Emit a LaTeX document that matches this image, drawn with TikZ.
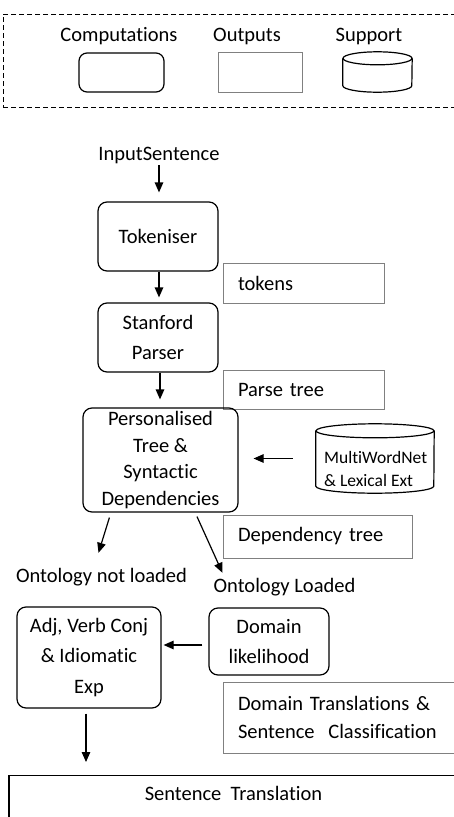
\documentclass[tikz,border=0pt]{standalone}
\usepackage{fontspec}
\setmainfont{Carlito}[Ligatures={NoCommon,NoContextual}, Contextuals={NoAlternate}]
\usetikzlibrary{arrows.meta,calc}
\definecolor{outgray}{HTML}{808080}
\tikzset{
  base/.style={font=\fontsize{20.5pt}{26.5pt}\selectfont},
  comp/.style={base, draw, rounded corners=9pt, line width=1.2pt, align=center, inner sep=0pt},
  outb/.style={base, draw=outgray, line width=1pt, align=left, inner xsep=15pt, inner ysep=0pt},
  txt/.style={base, inner sep=0pt, text height=14pt, text depth=4pt},
  arr/.style={-{Triangle[width=8.5pt,length=10pt]}, line width=1.2pt},
  cylbox/.style={draw=none, inner sep=0pt},
  cyl/.style={line width=1.2pt}
}
\begin{document}
\begin{tikzpicture}[x=1pt,y=-1pt]
\clip (0,0) rectangle (454,817);
\fill[white] (0,0) rectangle (454,817);

% legend
\node[draw, dash pattern=on 5pt off 3pt, line width=1pt, minimum width=452pt, minimum height=93pt, inner sep=0pt] (legend) at (229,60.5) {};
\node[txt] (lc) at (119,36) {Computations};
\node[txt] (lo) at (247,36) {Outputs};
\node[txt] (ls) at (369,36) {Support};
\node[comp, minimum width=85pt, minimum height=39pt, rounded corners=8pt] (lcb) at (121.5,72.5) {};
\node[outb, minimum width=84pt, minimum height=40pt, inner sep=0pt] (lob) at (260,72) {};
\node[cylbox, minimum width=69pt, minimum height=40pt] (lsb) at (377.5,72) {};
\draw[cyl] ([yshift=-6.5pt]lsb.north) ellipse [x radius=34.5pt, y radius=6.5pt];
\draw[cyl] ([yshift=-6.5pt]lsb.north west) -- ([yshift=6.5pt]lsb.south west)
  arc[start angle=180, end angle=360, x radius=34.5pt, y radius=6.5pt] -- ([yshift=-6.5pt]lsb.north east);

% main flow
\node[txt] (in) at (159,155) {InputSentence};
\node[comp, minimum width=120pt, minimum height=69pt] (tok) at (158,236.5) {Tokeniser};
\node[outb, text width=131pt, minimum height=40pt] (tokens) at (303.5,283) {tokens};
\node[comp, minimum width=120pt, minimum height=69pt, font=\fontsize{20.5pt}{30pt}\selectfont] (st) at (158,337.5) {Stanford\\Parser};
\node[outb, text width=131pt, minimum height=39pt] (pt) at (303.5,389.5) {Parse tree};
\node[comp, minimum width=155pt, minimum height=104pt] (pers) at (160.5,460) {Personalised\\Tree \&\\Syntactic\\Dependencies};

\node[cylbox, minimum width=118pt, minimum height=69pt] (mwn) at (375,458.5) {};
\draw[cyl] ([yshift=-7pt]mwn.north) ellipse [x radius=59pt, y radius=7pt];
\draw[cyl] ([yshift=-7pt]mwn.north west) -- ([yshift=7pt]mwn.south west)
  arc[start angle=180, end angle=360, x radius=59pt, y radius=7pt] -- ([yshift=-7pt]mwn.north east);
\node[inner sep=0pt, align=left, anchor=west, font=\fontsize{17.5pt}{23pt}\selectfont] (mwnt) at (324,468.5) {MultiWordNet\\\& Lexical Ext};

\node[outb, text width=159pt, minimum height=43pt] (dt) at (317.5,536.5) {Dependency tree};
\node[txt] (nl) at (101.5,577) {Ontology not loaded};
\node[txt] (ol) at (284.5,587) {Ontology Loaded};
\node[comp, minimum width=144pt, minimum height=101pt, font=\fontsize{20.5pt}{30.5pt}\selectfont] (adj) at (89,657.5) {Adj, Verb Conj\\\& Idiomatic\\Exp};
\node[comp, minimum width=120pt, minimum height=67pt, font=\fontsize{20.5pt}{30pt}\selectfont] (dom) at (269,641.5) {Domain\\likelihood};
\node[outb, text width=207pt, minimum height=71pt, font=\fontsize{20.5pt}{28pt}\selectfont] (dtr) at (341.5,717.5) {Domain Translations \&\\Sentence\ \ Classification};
\node[base, draw, line width=1.2pt, minimum width=449pt, text height=19pt, text depth=40pt, inner xsep=0pt, inner ysep=6pt, anchor=north] (sent) at (233.5,775) {Sentence\ \ Translation};

% connectors
\draw[arr, shorten <=1pt, shorten >=9pt] (in.south) -- (in.south |- tok.north);
\draw[arr, shorten >=5pt] ([xshift=1pt]tok.south) -- ([xshift=1pt]tok.south |- st.north);
\draw[arr, shorten >=8pt] ([xshift=2pt]st.south) -- ([xshift=2pt]st.south |- pers.north);
\draw[arr, shorten <=23pt, shorten >=15pt] (mwn.west) -- (mwn.west -| pers.east);
\draw[arr] ([xshift=27pt,yshift=-5pt]pers.south west) -- ([xshift=-3pt,yshift=15pt]nl.north);
\draw[arr] ([xshift=36.5pt,yshift=-4pt]pers.south) -- ([xshift=9pt,yshift=5pt]ol.north west);
\draw[arr, shorten <=6pt, shorten >=2pt] ([yshift=-3.5pt]dom.west) -- ([yshift=-3.5pt]dom.west -| adj.east);
\draw[arr, shorten <=5pt, shorten >=13pt] ([xshift=-3pt]adj.south) -- ([xshift=-3pt]adj.south |- sent.north);
\end{tikzpicture}
\end{document}
